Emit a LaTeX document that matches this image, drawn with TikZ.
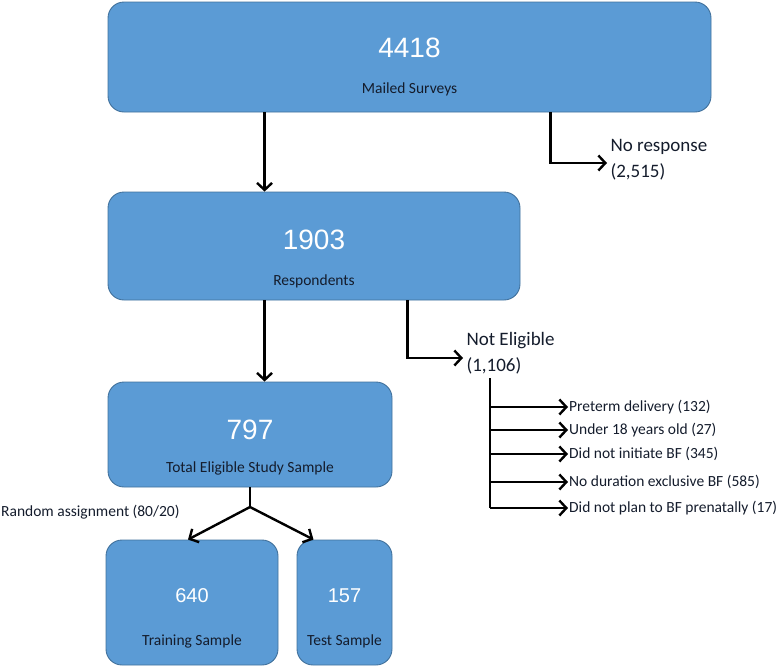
\documentclass[tikz,border=0pt]{standalone}
\usepackage{fontspec}
\setmainfont{Carlito}
\newfontfamily\numfont{Liberation Sans}
\usetikzlibrary{calc}
\usetikzlibrary{arrows.meta}
\definecolor{box-blue}{HTML}{5B9BD5}
\definecolor{box-edge}{HTML}{41719C}
\definecolor{label-ink}{HTML}{141C2C}
\tikzstyle{stagebox}=[draw=box-edge,fill=box-blue,line width=0.9pt,rounded corners=16pt,inner sep=0pt]
\tikzstyle{bignum}=[text=white,font=\numfont\fontsize{28}{30}\selectfont]
\tikzstyle{smallnum}=[text=white,font=\numfont\fontsize{20}{22}\selectfont]
\tikzstyle{boxlabel}=[text=label-ink,font=\fontsize{15.5}{17}\selectfont]
\tikzstyle{sidetext}=[anchor=west,align=left,text=label-ink,font=\fontsize{19}{26}\selectfont]
\tikzstyle{reason}=[anchor=west,inner sep=1pt,text=label-ink,font=\fontsize{15.5}{17}\selectfont]
\tikzstyle{flow}=[line width=2.4pt,-{Straight Barb[length=7pt,width=15pt,line width=2.4pt]}]
\tikzstyle{flowline}=[line width=2.4pt]

\begin{document}
\begin{tikzpicture}[x=1pt,y=-1pt]
\useasboundingbox (0,0) rectangle (783,667);
% boxes
\node[stagebox,minimum width=603pt,minimum height=110pt] (mailed) at (409.5,57) {};
\node[stagebox,minimum width=412pt,minimum height=108pt] (resp) at (314,246) {};
\node[stagebox,minimum width=284pt,minimum height=105pt] (total) at (250,434.5) {};
\node[stagebox,minimum width=172pt,minimum height=125pt] (train) at (192,602.5) {};
\node[stagebox,minimum width=95pt,minimum height=125pt] (test) at (344.5,602.5) {};
% numbers and labels in boxes
\node[bignum] (mailednum) at (409.5,48) {4418};
\node[boxlabel] (mailedlab) at (409.5,89) {Mailed Surveys};
\node[bignum] (respnum) at (314,240) {1903};
\node[boxlabel] (resplab) at (314,281) {Respondents};
\node[bignum] (totalnum) at (250,430) {797};
\node[boxlabel] (totallab) at (250,468) {Total Eligible Study Sample};
\node[smallnum] (trainnum) at (192,596) {640};
\node[boxlabel] (trainlab) at (192,641) {Training Sample};
\node[smallnum] (testnum) at (344.5,596) {157};
\node[boxlabel] (testlab) at (344.5,641) {Test Sample};
% exclusions
\node[sidetext] (noresp) at (607,160) {No response\\(2,515)};
\node[sidetext] (notelig) at (463,353) {Not Eligible\\(1,106)};
\node[reason] (r1) at (568,407) {Preterm delivery (132)};
\node[reason] (r2) at (568,430) {Under 18 years old (27)};
\node[reason] (r3) at (568,454) {Did not initiate BF (345)};
\node[reason] (r4) at (568,482) {No duration exclusive BF (585)};
\node[reason] (r5) at (568,508) {Did not plan to BF prenatally (17)};
\node[reason] (randlab) at (0,512) {Random assignment (80/20)};
% main flow
\draw[flow] ([xshift=157pt]mailed.south west) -- ([xshift=157pt]resp.north west);
\draw[flow] ([xshift=157pt]resp.south west) -- ([xshift=157pt]total.north west);
\draw[flow] ([xshift=-161pt]mailed.south east) |- ([yshift=-3pt]noresp.west);
\draw[flow] ([xshift=300pt]resp.south west) |- ([yshift=-5pt]notelig.west);
% reasons
\coordinate (trunk) at (490,378);
\draw[flowline] (trunk) -- (trunk |- r5.west);
\foreach \r in {r1,r2,r3,r4,r5}
  \draw[flow] (trunk |- \r.west) -- (\r.west);
% random split
\coordinate (split) at (250,507);
\draw[flowline] (total.south) -- (split);
\draw[flow] (split) -- ([xshift=-4pt]train.north);
\draw[flow] (split) -- ([xshift=-31pt]test.north);
\end{tikzpicture}
\end{document}
